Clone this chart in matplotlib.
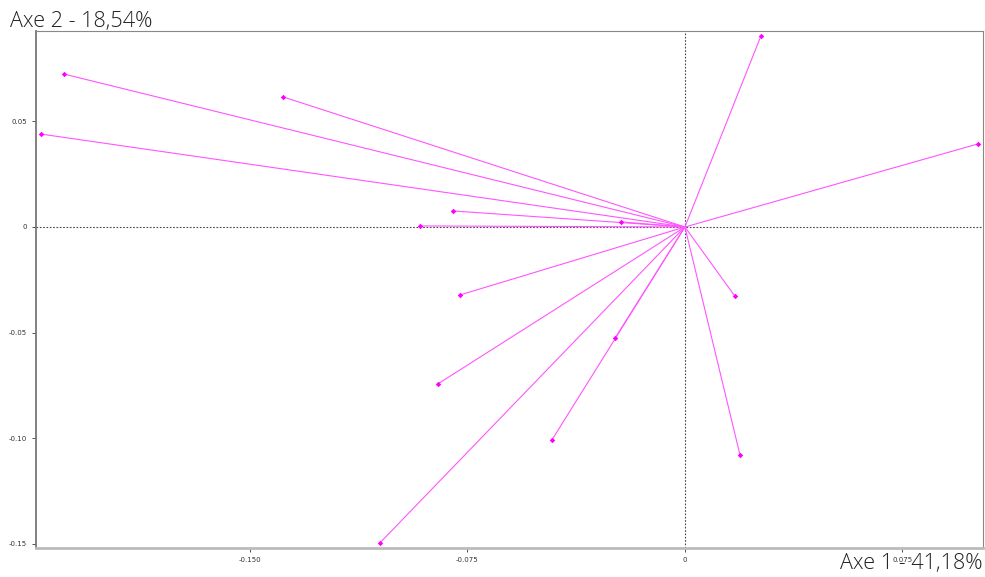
import matplotlib
matplotlib.use("Agg")
import matplotlib.pyplot as plt
import numpy as np

# variable coordinates (axe 1, axe 2)
AXE1 = [0.0262, 0.1010, -0.2141, -0.1386, -0.2221, -0.0800, -0.0914, -0.0220,
        -0.0776, -0.0852, -0.0241, -0.0459, -0.1052, 0.0172, 0.0190]
AXE2 = [0.0904, 0.0393, 0.0724, 0.0616, 0.0440, 0.0076, 0.0005, 0.0024,
        -0.0322, -0.0743, -0.0526, -0.1009, -0.1496, -0.0327, -0.1080]

XTICKS = [-0.150, -0.075, 0, 0.075]
XTICK_LABELS = ["-0.150", "-0.075", "0", "0.075"]
YTICKS = [0.05, 0, -0.05, -0.10, -0.15]
YTICK_LABELS = ["0.05", "0", "-0.05", "-0.10", "-0.15"]

LABEL_X = "Axe 1 - 41,18%"
LABEL_Y = "Axe 2 - 18,54%"

fig = plt.figure(figsize=(9.85, 5.77), dpi=100)
ax = fig.add_axes([36 / 985, 1 - 548 / 577, (983 - 36) / 985, (548 - 31) / 577])

ax.set_xlim(-0.2238, 0.1028)
ax.set_ylim(-0.152, 0.0928)

ax.axhline(0, color="#444444", lw=0.8, ls=(0, (1.5, 1.5)), zorder=1)
ax.axvline(0, color="#444444", lw=0.8, ls=(0, (1.5, 1.5)), zorder=1)

for x, y in zip(AXE1, AXE2):
    ax.plot([0, x], [0, y], color="#ff55ff", lw=0.8, zorder=2)
    ax.plot([x], [y], marker="D", ms=2.8, color="#ff00ff", mec="none", zorder=3)

ax.set_xticks(XTICKS)
ax.set_xticklabels(XTICK_LABELS)
ax.set_yticks(YTICKS)
ax.set_yticklabels(YTICK_LABELS)
ax.tick_params(labelsize=5, colors="#333333", length=3, width=0.6)

for s in ["top", "right"]:
    ax.spines[s].set_color("#888888")
    ax.spines[s].set_linewidth(0.8)
ax.spines["left"].set_color("#777777")
ax.spines["left"].set_linewidth(1.3)
ax.spines["bottom"].set_color("#bbbbbb")
ax.spines["bottom"].set_linewidth(2)

fig.text(10 / 985, 1 - 21 / 577, LABEL_Y, fontsize=15.5, color="#222222",
         family="Open Sans", fontweight="light", va="center", ha="left")
fig.text(982 / 985, 1 - 564 / 577, LABEL_X, fontsize=15.5, color="#222222",
         family="Open Sans", fontweight="light", va="center", ha="right")

fig.savefig("out.png", dpi=100)
